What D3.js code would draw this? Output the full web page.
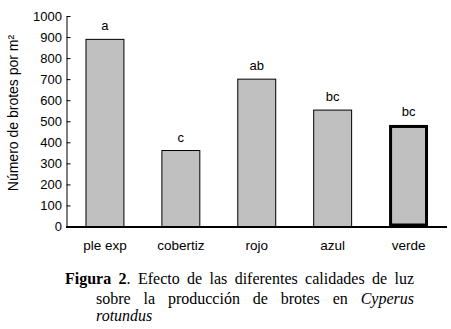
<!DOCTYPE html>
<html>
<head>
<meta charset="utf-8">
<script src="https://cdn.jsdelivr.net/npm/d3@7"></script>
<style>
  html, body { margin: 0; padding: 0; background: #fff; }
  svg { display: block; }
</style>
</head>
<body>
<svg id="chart" width="451" height="329"></svg>
<script>
const categories = ["ple exp", "cobertiz", "rojo", "azul", "verde"];
const values = [889, 361, 700, 553, 480];
const letters = ["a", "c", "ab", "bc", "bc"];
const yTicks = [0, 100, 200, 300, 400, 500, 600, 700, 800, 900, 1000];
const yTitle = "Número de brotes por m²";
const captionLines = [
  [{t: "Figura 2", b: true}, {t: ". Efecto de las diferentes calidades de luz"}],
  [{t: "sobre la producción de brotes en "}, {t: "Cyperus", i: true}],
  [{t: "rotundus", i: true}]
];

const svg = d3.select("#chart");
const sans = "Arial, 'Liberation Sans', sans-serif";
const serif = "'Times New Roman', 'Liberation Serif', serif";

const x0 = 66.5, x1 = 446.5, yTop = 16, yBot = 226.5;
const x = d3.scaleBand().domain(categories).range([x0 + 0.5, x1]).paddingInner(0.5).paddingOuter(0.25);
const y = d3.scaleLinear().domain([0, 1000]).range([yBot, yTop]);

// bars
svg.append("g").selectAll("rect").data(values).join("rect")
  .attr("x", (d, i) => x(categories[i]))
  .attr("y", d => y(d))
  .attr("width", x.bandwidth())
  .attr("height", d => yBot - y(d))
  .attr("fill", "#c0c0c0")
  .attr("stroke", "#000")
  .attr("stroke-width", 1)
  .each(function(d, i) {
    if (i === categories.length - 1) {
      d3.select(this)
        .attr("x", x(categories[i]) + 1)
        .attr("y", y(d) + 1)
        .attr("width", x.bandwidth() - 2)
        .attr("height", yBot - y(d) - 2.5)
        .attr("stroke-width", 3);
    }
  });

// letters
svg.append("g").selectAll("text").data(values).join("text")
  .attr("x", (d, i) => x(categories[i]) + x.bandwidth() / 2)
  .attr("y", d => y(d) - 9)
  .attr("text-anchor", "middle")
  .attr("font-family", sans).attr("font-size", 13)
  .text((d, i) => letters[i]);

// y axis
const ya = svg.append("g").attr("transform", `translate(${x0},0)`)
  .call(d3.axisLeft(y).tickValues(yTicks).tickFormat(d3.format("d")).tickSizeInner(-4).tickSizeOuter(0).tickPadding(4.5));
ya.select(".domain").attr("stroke", "#000");
ya.selectAll(".tick line").attr("stroke", "#000");
ya.selectAll(".tick text").attr("font-family", sans).attr("font-size", 13).attr("fill", "#000");

// x axis
const xa = svg.append("g").attr("transform", `translate(0,${yBot + 0.5})`)
  .call(d3.axisBottom(x).tickSize(0).tickPadding(13));
xa.select(".domain").attr("stroke", "#000").attr("stroke-width", 2)
  .attr("d", `M${x0 - 0.5},0H${x1 + 0.5}`);
xa.selectAll(".tick text").attr("font-family", sans).attr("font-size", 13.5).attr("fill", "#000");

// y title
svg.append("text")
  .attr("transform", `translate(18,113) rotate(-90)`)
  .attr("text-anchor", "middle")
  .attr("font-family", sans).attr("font-size", 14)
  .text(yTitle);

// caption with justification
const capX = [65, 96, 96];
const capBase = [284, 304, 321];
const capRight = 414;
const fs = 16;
captionLines.forEach((parts, li) => {
  const words = [];
  parts.forEach(p => {
    const toks = p.t.split(/( )/);
    toks.forEach(tk => {
      if (tk === " ") { words.push(null); }
      else if (tk !== "") {
        if (words.length && words[words.length - 1] !== null) {
          words[words.length - 1].push({t: tk, b: p.b, i: p.i});
        } else words.push([{t: tk, b: p.b, i: p.i}]);
      }
    });
  });
  const wordList = words.filter(w => w !== null);
  const g = svg.append("g");
  const nodes = wordList.map(w => {
    const t = g.append("text").attr("y", capBase[li]).attr("font-family", serif).attr("font-size", fs).attr("fill", "#000");
    w.forEach(seg => {
      t.append("tspan").attr("font-weight", seg.b ? "bold" : "normal").attr("font-style", seg.i ? "italic" : "normal").text(seg.t);
    });
    return t;
  });
  const widths = nodes.map(n => n.node().getComputedTextLength());
  const total = d3.sum(widths);
  const justify = li < captionLines.length - 1;
  const gap = justify && nodes.length > 1 ? (capRight - capX[li] - total) / (nodes.length - 1) : 4;
  let cx = capX[li];
  nodes.forEach((n, k) => { n.attr("x", cx); cx += widths[k] + gap; });
});
</script>
</body>
</html>
